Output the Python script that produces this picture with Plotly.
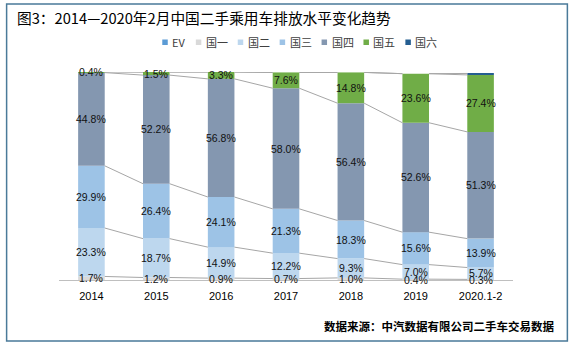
import plotly.graph_objects as go

categories = ["2014", "2015", "2016", "2017", "2018", "2019", "2020.1-2"]
series_names = ["EV", "国一", "国二", "国三", "国四", "国五", "国六"]
ev = [0, 0, 0, 0, 0, 0, 0]
guo1 = [1.7, 1.2, 0.9, 0.7, 1.0, 0.4, 0.3]
guo2 = [23.3, 18.7, 14.9, 12.2, 9.3, 7.0, 5.7]
guo3 = [29.9, 26.4, 24.1, 21.3, 18.3, 15.6, 13.9]
guo4 = [44.8, 52.2, 56.8, 58.0, 56.4, 52.6, 51.3]
guo5 = [0.4, 1.5, 3.3, 7.6, 14.8, 23.6, 27.4]
guo6 = [0, 0, 0, 0, 0, 0, 0.7]
colors = ["#5b9bd5", "#d9d9d9", "#bdd7ee", "#9dc3e6", "#8497b0", "#70ad47", "#255e91"]
labeled = [False, True, True, True, True, True, False]

title_text = "图3：2014—2020年2月中国二手乘用车排放水平变化趋势"
source_text = "数据来源：中汽数据有限公司二手车交易数据"

series = [ev, guo1, guo2, guo3, guo4, guo5, guo6]

W, H = 575, 349
ML, MR, MT, MB = 58.5, 61.5, 72, 69
PW, PH = W - ML - MR, H - MT - MB


def PX(px):
    return (px - ML) / PW


def PY(py):
    return (H - MB - py) / PH


xs = list(range(len(categories)))
bar_w = 0.41
fig = go.Figure()

cum = [0.0] * len(categories)
tops = []
annotations = []
for name, vals, col, lab in zip(series_names, series, colors, labeled):
    fig.add_trace(go.Bar(x=xs, y=vals, base=cum[:], name=name, marker=dict(color=col, line=dict(width=0)),
                         width=bar_w, showlegend=False, hoverinfo="skip"))
    if lab:
        for i, v in enumerate(vals):
            if v > 0:
                annotations.append(dict(x=xs[i], y=cum[i] + v / 2, xref="x", yref="y", text=f"{v:.1f}%",
                                        showarrow=False, font=dict(family="Liberation Sans, Arial", size=10.5, color="#111111")))
    cum = [c + v for c, v in zip(cum, vals)]
    if name != "EV":
        tops.append(cum[:])

# series lines connecting segment tops
lx, ly = [], []
for t in tops:
    for i in range(len(categories) - 1):
        lx += [xs[i] + bar_w / 2, xs[i + 1] - bar_w / 2, None]
        ly += [t[i], t[i + 1], None]
fig.add_trace(go.Scatter(x=lx, y=ly, mode="lines", line=dict(color="#a6a6a6", width=1), showlegend=False,
                         hoverinfo="skip"))

# custom legend
leg_font = 11
x_cursor = 162
for name, col in zip(series_names, colors):
    tw = sum(leg_font if ord(ch) > 255 else leg_font * 0.62 for ch in name)
    fig.add_shape(type="rect", xref="paper", yref="paper", x0=PX(x_cursor), x1=PX(x_cursor + 5.5),
                  y0=PY(45), y1=PY(39.5), fillcolor=col, line=dict(width=0))
    annotations.append(dict(x=PX(x_cursor + 8), y=PY(42.5), xref="paper", yref="paper", text=name,
                            showarrow=False, xanchor="left", yanchor="middle",
                            font=dict(family="Noto Sans CJK SC, Liberation Sans", size=leg_font, color="#404040")))
    x_cursor += 8 + tw + 12

annotations.append(dict(x=PX(14), y=PY(17), xref="paper", yref="paper", text=title_text, showarrow=False,
                        xanchor="left", yanchor="middle",
                        font=dict(family="Noto Sans CJK SC", size=14.7, color="#000000")))
annotations.append(dict(x=PX(557), y=PY(326), xref="paper", yref="paper", text="<b>" + source_text + "</b>",
                        showarrow=False, xanchor="right", yanchor="middle",
                        font=dict(family="Noto Sans CJK SC", size=11.5, color="#000000")))

# frame
fig.add_shape(type="rect", xref="paper", yref="paper", x0=PX(6), x1=PX(568), y0=PY(341), y1=PY(4),
              line=dict(color="#4a7a99", width=1.5), fillcolor="rgba(0,0,0,0)", layer="above")

fig.update_layout(
    width=W, height=H,
    margin=dict(l=ML, r=MR, t=MT, b=MB),
    paper_bgcolor="white", plot_bgcolor="white",
    barmode="overlay",
    annotations=annotations,
    xaxis=dict(range=[-0.5, len(categories) - 0.5], tickvals=xs, ticktext=categories,
               showgrid=False, zeroline=False, showline=True, linecolor="#bfbfbf", linewidth=1,
               ticks="", ticklabelstandoff=6,
               tickfont=dict(family="Liberation Sans, Arial", size=11, color="#000000")),
    yaxis=dict(range=[0, 100], showgrid=False, zeroline=False, showline=False, showticklabels=False),
)

fig.write_html("out.html")
